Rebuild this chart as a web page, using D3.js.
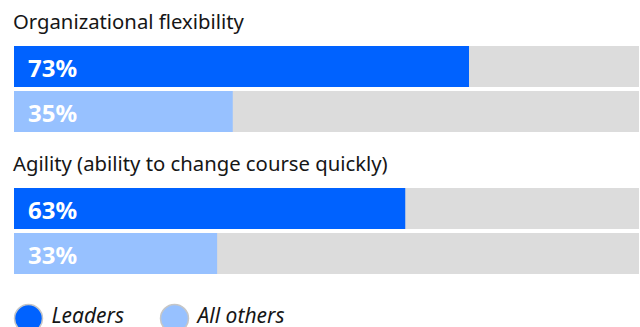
<!DOCTYPE html>
<html>
<head>
<meta charset="utf-8">
<script src="https://cdn.jsdelivr.net/npm/d3@7"></script>
<style>
  body { margin: 0; background: #fff; }
  svg { display: block; font-family: "Noto Sans", sans-serif; }
</style>
</head>
<body>
<svg class="chart"></svg>
<script>
// data (bar lengths as measured; labels are shown rounded)
var categories = ["Organizational flexibility", "Agility (ability to change course quickly)"];
var leaders = [72.8, 62.6];
var allOthers = [35, 32.5];
var seriesNames = ["Leaders", "All others"];

var width = 640, height = 327;
var colors = {leaders: "#0062ff", others: "#97c1ff", track: "#dcdcdc"};

var svg = d3.select(".chart").attr("width", width).attr("height", height);

var x = d3.scaleLinear().domain([0, 100]).range([14, 639]);

// each group: title + two bars
var groupY = d3.scaleBand().domain(categories).range([0, 284]).paddingInner(0);
var barH = 41, barGap = 4, titleToBar = 46;

var groups = svg.selectAll("g.group")
  .data(categories.map(function(c, i) {
    return {name: c, values: [{key: "leaders", v: leaders[i]}, {key: "others", v: allOthers[i]}]};
  }))
  .enter().append("g")
  .attr("class", "group")
  .attr("transform", function(d) { return "translate(0," + groupY(d.name) + ")"; });

groups.append("text")
  .attr("x", x(0) - 1)
  .attr("y", 29)
  .attr("font-size", 20.3)
  .attr("fill", "#161616")
  .text(function(d) { return d.name; });

var bars = groups.selectAll("g.bar")
  .data(function(d) { return d.values; })
  .enter().append("g")
  .attr("class", "bar")
  .attr("transform", function(d, i) { return "translate(0," + (titleToBar + i * (barH + barGap)) + ")"; });

bars.append("rect")
  .attr("x", x(0))
  .attr("width", x(100) - x(0))
  .attr("height", barH)
  .attr("fill", colors.track);

bars.append("rect")
  .attr("x", x(0))
  .attr("width", function(d) { return x(d.v) - x(0); })
  .attr("height", barH)
  .attr("fill", function(d) { return colors[d.key]; });

bars.append("text")
  .attr("x", x(0) + 14)
  .attr("y", 31)
  .attr("font-size", 24)
  .attr("font-weight", "bold")
  .attr("fill", "#fff")
  .text(function(d) { return Math.round(d.v) + "%"; });

// legend
var legend = svg.selectAll("g.legend")
  .data(seriesNames)
  .enter().append("g")
  .attr("class", "legend")
  .attr("transform", function(d, i) { return "translate(" + (28.5 + i * 146) + ",318.5)"; });

legend.append("circle")
  .attr("r", 14)
  .attr("fill", function(d, i) { return i === 0 ? colors.leaders : colors.others; })
  .attr("stroke", "#c6c6c6")
  .attr("stroke-width", 1.5);

legend.append("text")
  .attr("x", 23)
  .attr("y", 4)
  .attr("font-size", 21)
  .attr("font-style", "italic")
  .attr("fill", "#161616")
  .text(function(d) { return d; });
</script>
</body>
</html>
